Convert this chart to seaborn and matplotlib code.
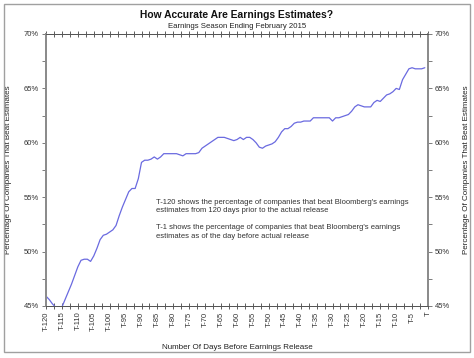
import numpy as np
import pandas as pd
import matplotlib
matplotlib.use("Agg")
import matplotlib.pyplot as plt
import seaborn as sns
from matplotlib.ticker import MultipleLocator, FuncFormatter

# Days before release (T-120 ... T-1) and share of companies beating estimates (%)
days = list(range(-120, 0))
beat_pct = [
    45.9, 45.6, 45.2, 44.9, 44.8, 44.9, 45.6, 46.3, 47.0, 47.8,
    48.6, 49.2, 49.3, 49.3, 49.1, 49.6, 50.3, 51.1, 51.5, 51.6,
    51.8, 52.0, 52.4, 53.3, 54.1, 54.8, 55.5, 55.8, 55.8, 56.7,
    58.2, 58.4, 58.4, 58.5, 58.7, 58.5, 58.7, 59.0, 59.0, 59.0,
    59.0, 59.0, 58.9, 58.8, 59.0, 59.0, 59.0, 59.0, 59.1, 59.5,
    59.7, 59.9, 60.1, 60.3, 60.5, 60.5, 60.5, 60.4, 60.3, 60.2,
    60.3, 60.5, 60.3, 60.5, 60.5, 60.3, 60.0, 59.6, 59.5, 59.7,
    59.8, 59.9, 60.1, 60.5, 61.0, 61.3, 61.3, 61.5, 61.8, 61.9,
    61.9, 62.0, 62.0, 62.0, 62.3, 62.3, 62.3, 62.3, 62.3, 62.3,
    62.0, 62.3, 62.3, 62.4, 62.5, 62.6, 62.9, 63.3, 63.5, 63.4,
    63.3, 63.3, 63.3, 63.7, 63.9, 63.8, 64.1, 64.4, 64.5, 64.7,
    65.0, 64.9, 65.8, 66.3, 66.8, 66.9, 66.8, 66.8, 66.8, 66.9,
]
tick_days = list(range(-120, 1, 5))
tick_labels = [f"T{d}" if d < 0 else "T" for d in tick_days]

df = pd.DataFrame({"day": days, "pct": beat_pct})

sns.set_style("white")
plt.rcParams["font.family"] = ["Liberation Sans", "DejaVu Sans"]

fig = plt.figure(figsize=(4.74, 3.58), dpi=100)
ax = fig.add_axes([46 / 474, 1 - 306 / 358, 382 / 474, 272 / 358])

sns.lineplot(data=df, x="day", y="pct", ax=ax, color="#6a6ae0", linewidth=0.9)

ax.set_xlim(-120, 0)
ax.set_ylim(45, 70)

# x axis
ax.set_xticks(tick_days)
ax.set_xticklabels(tick_labels, rotation=90, fontsize=5.5, color="#333333")
ax.xaxis.set_minor_locator(MultipleLocator(2.5))
ax.tick_params(axis="x", which="both", top=True, bottom=True, direction="inout",
               length=4, width=0.6, color="#444444", pad=2)
ax.set_xlabel("Number Of Days Before Earnings Release", fontsize=5.8, color="#222222")
ax.xaxis.set_label_coords(0.5, -0.141)

# y axis, left and right
fmt = FuncFormatter(lambda v, _: f"{v:.0f}%")
ax.yaxis.set_major_locator(MultipleLocator(5))
ax.yaxis.set_minor_locator(MultipleLocator(2.5))
ax.yaxis.set_major_formatter(fmt)
ax.tick_params(axis="y", which="both", left=True, direction="out", length=3,
               width=0.6, color="#666666", labelsize=5.5, labelcolor="#333333", pad=2)
ax.set_ylabel("Percentage Of Companies That Beat Estimates", fontsize=5.8, color="#222222")
ax.yaxis.set_label_coords(-0.089, 0.5)

ax2 = ax.twinx()
ax2.set_ylim(45, 70)
ax2.yaxis.set_major_locator(MultipleLocator(5))
ax2.yaxis.set_minor_locator(MultipleLocator(2.5))
ax2.yaxis.set_major_formatter(fmt)
ax2.tick_params(axis="y", which="both", right=True, direction="out", length=3,
                width=0.6, color="#666666", labelsize=5.5, labelcolor="#333333", pad=2)
ax2.set_ylabel("Percentage Of Companies That Beat Estimates", fontsize=5.8, color="#222222")
ax2.yaxis.set_label_coords(1.092, 0.5)

for a in (ax, ax2):
    for side in ("left", "right"):
        a.spines[side].set_color("#8c8c8c")
        a.spines[side].set_linewidth(1.4)
    for side in ("top", "bottom"):
        a.spines[side].set_color("#555555")
        a.spines[side].set_linewidth(0.7)

ax.text(0.288, 0.395,
        "T-120 shows the percentage of companies that beat Bloomberg's earnings\n"
        "estimates from 120 days prior to the actual release\n\n"
        "T-1 shows the percentage of companies that beat Bloomberg's earnings\n"
        "estimates as of the day before actual release",
        transform=ax.transAxes, ha="left", va="top", fontsize=5.5,
        color="#333333", linespacing=1.3)

fig.text(0.5, 1 - 15 / 358, "How Accurate Are Earnings Estimates?", ha="center",
         va="center", fontsize=7.4, fontweight="bold", color="#111111")
fig.text(0.5, 1 - 27 / 358, "Earnings Season Ending February 2015", ha="center",
         va="center", fontsize=5.6, color="#222222")

# outer frame
fig.patches.append(plt.Rectangle((4 / 474, 1 - 352 / 358), 466 / 474, 348 / 358,
                                 transform=fig.transFigure, fill=False,
                                 edgecolor="#a0a0a0", linewidth=1.0))

fig.savefig("out.png", dpi=100)
